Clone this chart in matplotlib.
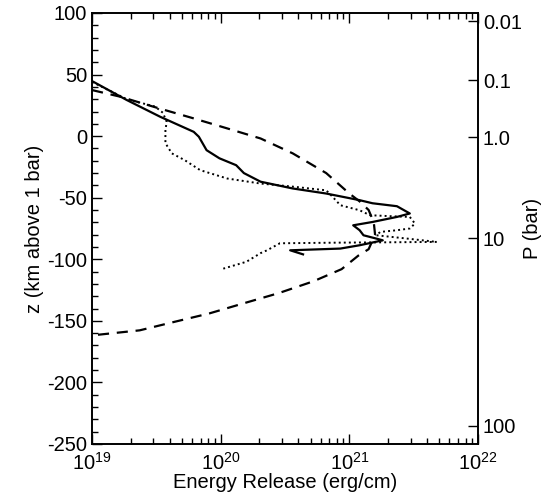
# Energy release vs altitude profiles
import numpy as np
import matplotlib
matplotlib.use("Agg")
import matplotlib.pyplot as plt
from matplotlib.ticker import MultipleLocator, LogLocator, NullFormatter

plt.rcParams['font.family'] = ['Liberation Sans', 'DejaVu Sans']
plt.rcParams['mathtext.fontset'] = 'custom'
plt.rcParams['mathtext.rm'] = 'Liberation Sans'
plt.rcParams['mathtext.it'] = 'Liberation Sans'
plt.rcParams['axes.unicode_minus'] = False

# log10 of energy release (erg/cm) and altitude z (km)
solid_logE = [19.0, 19.27, 19.53, 19.79, 19.83, 19.89, 19.99, 20.12, 20.18, 20.31, 20.56,
              20.82, 21.08, 21.18, 21.37, 21.47, 21.37, 21.18, 21.03, 21.08, 21.11, 21.21,
              21.26, 21.08, 20.93, 20.54, 20.64]
solid_z = [44.7, 29.3, 15.7, 3.5, -0.5, -11.4, -18.0, -23.6, -30.0, -37.0, -42.5,
           -46.6, -52.0, -54.5, -56.9, -62.8, -65.6, -69.7, -72.4, -76.4, -80.5, -83.2,
           -84.6, -88.6, -91.3, -92.7, -96.0]

dotted_logE = [19.0, 19.27, 19.49, 19.55, 19.58, 19.57, 19.57, 19.62, 19.72, 19.84, 20.05,
               20.31, 20.56, 20.82, 20.87, 20.93, 21.08, 21.16, 21.32, 21.47, 21.51, 21.47,
               21.37, 21.24, 21.21, 21.45, 21.68, 21.3, 20.9, 20.46, 20.36, 20.31, 20.20, 20.02]
dotted_z = [44.0, 30.0, 24.0, 19.0, 11.6, 5.0, -5.7, -14.0, -19.5, -27.6, -34.4,
            -38.5, -41.0, -44.0, -49.3, -56.1, -60.2, -64.2, -65.0, -65.6, -71.0, -75.0,
            -76.4, -77.8, -80.5, -83.2, -85.9, -86.2, -86.5, -87.0, -92.7, -95.0, -102.0, -107.6]

dashed_logE = [19.0, 19.22, 19.48, 19.79, 20.05, 20.31, 20.56, 20.82, 21.0, 21.08, 21.15,
               21.19, 21.2, 21.15, 21.07, 20.94, 20.72, 20.45, 20.18, 19.91, 19.64, 19.37, 19.0]
dashed_z = [37.4, 32.0, 23.8, 14.4, 6.3, -1.9, -14.0, -30.0, -46.6, -53.0, -60.0,
            -70.0, -80.0, -91.8, -97.0, -108.0, -117.9, -127.5, -135.7, -144.0, -150.8,
            -157.7, -161.8]

# pressure ticks on the right axis, placed at altitude z
p_labels = ['0.01', '0.1', '1.0', '10', '100']
p_z = [93.5, 45.5, -0.8, -83.0, -235.0]

fig = plt.figure(figsize=(5.45, 5.0), dpi=100)
ax = fig.add_axes([0.169, 0.112, 0.708, 0.862])

ax.plot(10**np.array(solid_logE), solid_z, color='black', lw=1.6, ls='-')
ax.plot(10**np.array(dotted_logE), dotted_z, color='black', lw=1.4, ls=(0, (1, 1.6)))
ax.plot(10**np.array(dashed_logE), dashed_z, color='black', lw=1.6, ls=(0, (5, 3.5)))

ax.set_xscale('log')
ax.set_xlim(1e19, 1e22)
ax.set_ylim(-250, 100)
ax.set_xticks([1e19, 1e20, 1e21, 1e22])
ax.set_xticklabels([r'$10^{19}$', r'$10^{20}$', r'$10^{21}$', r'$10^{22}$'])
ax.xaxis.set_minor_locator(LogLocator(base=10, subs=np.arange(2, 10)))
ax.xaxis.set_minor_formatter(NullFormatter())
ax.yaxis.set_major_locator(MultipleLocator(50))
ax.yaxis.set_minor_locator(MultipleLocator(10))

ax.tick_params(which='both', direction='in', top=True, right=False, labelsize=14.5, width=1)
ax.tick_params(which='major', length=7)
ax.tick_params(which='minor', length=4)
ax.tick_params(axis='x', pad=6)

ax.set_xlabel('Energy Release (erg/cm)', fontsize=14.5, labelpad=-1)
ax.set_ylabel('z (km above 1 bar)', fontsize=14.5, labelpad=2)

ax2 = ax.twinx()
ax2.set_ylim(ax.get_ylim())
ax2.set_yticks(p_z)
ax2.set_yticklabels(p_labels)
ax2.tick_params(direction='in', length=7, width=1, labelsize=14.5)
ax2.set_ylabel('P (bar)', fontsize=14.5, labelpad=1)

for a in (ax, ax2):
    for s in a.spines.values():
        s.set_linewidth(1.2)

fig.savefig('out.png', dpi=100)
